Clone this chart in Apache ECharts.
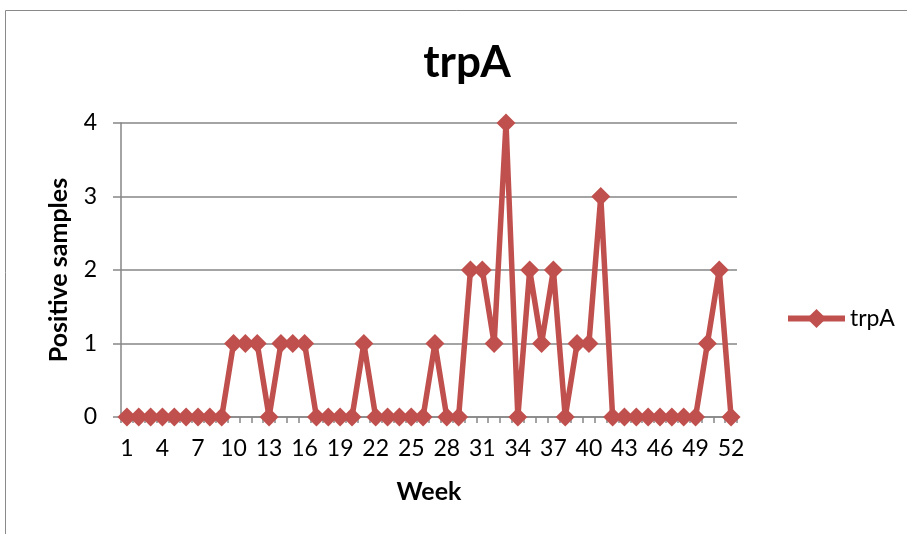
<!DOCTYPE html>
<html>
<head>
<meta charset="utf-8">
<script src="https://cdn.jsdelivr.net/npm/echarts@6/dist/echarts.min.js"></script>
<style>
html,body{margin:0;padding:0;background:#fff;}
#c{width:907px;height:534px;}
</style>
</head>
<body>
<div id="c"></div>
<script>
const weeks = Array.from({length: 52}, (_, i) => String(i + 1));
const trpA = [0,0,0,0,0,0,0,0,0,1,1,1,0,1,1,1,0,0,0,0,1,0,0,0,0,0,1,0,0,2,2,1,4,0,2,1,2,0,1,1,3,0,0,0,0,0,0,0,0,1,2,0];
const yTicks = [0,1,2,3,4];

const chart = echarts.init(document.getElementById('c'), null, {renderer: 'canvas'});
const font = 'Lato, "Open Sans", sans-serif';
chart.setOption({
  animation: false,
  backgroundColor: '#fff',
  title: {
    text: 'trpA', left: 462, top: 36, textAlign: 'center',
    textStyle: {fontFamily: font, fontSize: 44, fontWeight: 'bold', color: '#000'}
  },
  graphic: [{
    type: 'rect', shape: {x: 5.5, y: 10.5, width: 920, height: 540},
    style: {fill: 'none', stroke: '#8a8a8a', lineWidth: 1}, silent: true
  }],
  legend: {
    left: 780, top: 302, itemWidth: 57, itemHeight: 24, itemGap: 5,
    textStyle: {fontFamily: font, fontSize: 23, color: '#000'},
    lineStyle: {color: '#C0504D', width: 6},
    itemStyle: {color: '#C0504D', borderWidth: 0},
    data: ['trpA']
  },
  grid: {left: 121, right: 170, top: 123, bottom: 117},
  xAxis: {
    type: 'category', data: weeks, boundaryGap: true,
    name: 'Week', nameLocation: 'middle', nameGap: 62,
    nameTextStyle: {fontFamily: font, fontSize: 25, fontWeight: 'bold', color: '#000'},
    axisLine: {lineStyle: {color: '#868686', width: 1.5}},
    axisTick: {show: true, interval: 0, length: 6, lineStyle: {color: '#868686', width: 1.5}},
    axisLabel: {interval: 2, fontFamily: font, fontSize: 23, color: '#000', margin: 20}
  },
  yAxis: {
    type: 'value', min: 0, max: 4, interval: 1,
    name: 'Positive samples', nameLocation: 'middle', nameGap: 50, nameRotate: 90,
    nameTextStyle: {fontFamily: font, fontSize: 25, fontWeight: 'bold', color: '#000'},
    axisLine: {show: true, lineStyle: {color: '#868686', width: 1.5}},
    axisTick: {show: true, length: 8, lineStyle: {color: '#868686', width: 1.5}},
    axisLabel: {fontFamily: font, fontSize: 23, color: '#000', margin: 24,
      formatter: v => yTicks.includes(v) ? String(v) : ''},
    splitLine: {lineStyle: {color: '#868686', width: 1.5}}
  },
  series: [{
    name: 'trpA', type: 'line', data: trpA,
    symbol: 'diamond', symbolSize: 19, showAllSymbol: true,
    lineStyle: {color: '#C0504D', width: 5.5},
    itemStyle: {color: '#C0504D', borderWidth: 0},
    z: 3
  }]
});
</script>
</body>
</html>
